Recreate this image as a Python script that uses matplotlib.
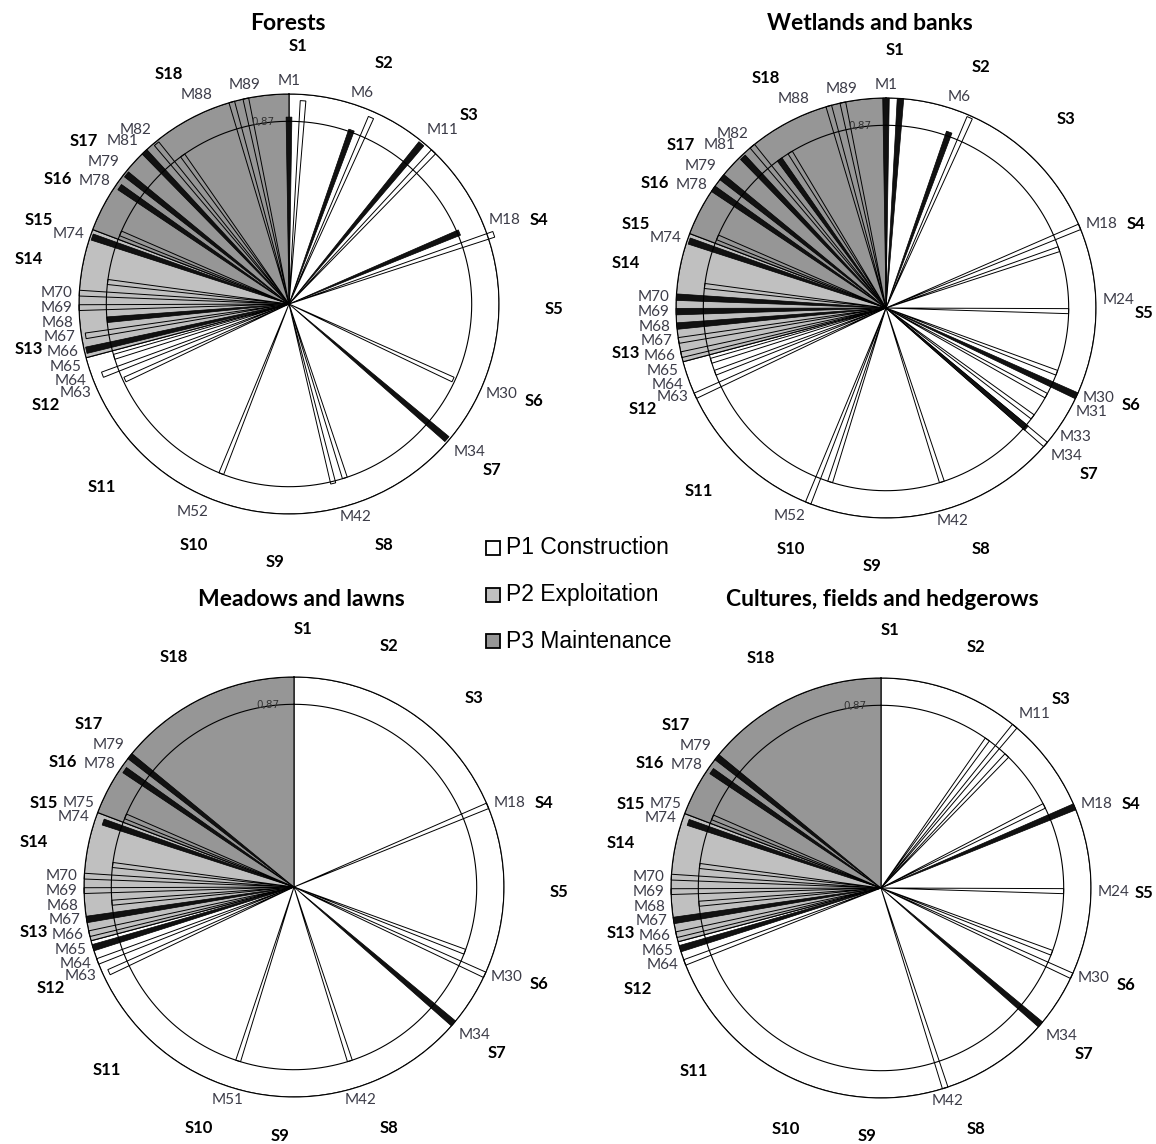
import numpy as np
import matplotlib.pyplot as plt
from matplotlib.patches import Rectangle

# 89 measures (M1..M89) placed clockwise from the top of each radar
n_slots = 91
threshold = 0.87

phase_names = ['P1 Construction', 'P2 Exploitation', 'P3 Maintenance']
phase_colors = ['white', '#c0c0c0', '#969696']
phase_first = [1, 66, 75]  # first measure of each phase

sectors = ['S%d' % i for i in range(1, 19)]

titles = ['Forests', 'Wetlands and banks', 'Meadows and lawns',
          'Cultures, fields and hedgerows']

# labelled measures per habitat
labels_forests = [1, 6, 11, 18, 30, 34, 42, 52, 63, 64, 65, 66, 67, 68, 69, 70,
                  74, 78, 79, 81, 82, 88, 89]
labels_wetlands = [1, 6, 18, 24, 30, 31, 33, 34, 42, 52, 63, 64, 65, 66, 67, 68,
                   69, 70, 74, 78, 79, 81, 82, 88, 89]
labels_meadows = [18, 30, 34, 42, 51, 63, 64, 65, 66, 67, 68, 69, 70, 74, 75, 78, 79]
labels_cultures = [11, 18, 24, 30, 34, 42, 64, 65, 66, 67, 68, 69, 70, 74, 75, 78, 79]

# strong scores (black wedges): measure -> score
bold_forests = {1: 0.89, 6: 0.88, 11: 0.99, 18: 0.88, 34: 0.99, 66: 0.99, 68: 0.87,
                74: 0.99, 78: 0.98, 79: 0.99, 81: 1.0}
bold_wetlands = {1: 1.0, 2: 1.0, 6: 0.89, 30: 1.0, 34: 0.88, 68: 1.0, 69: 1.0,
                 70: 1.0, 74: 0.99, 78: 1.0, 79: 1.0, 81: 0.99, 83: 0.87}
bold_meadows = {34: 1.0, 65: 1.0, 67: 1.0, 74: 0.96, 78: 0.98, 79: 1.0}
bold_cultures = {18: 1.0, 34: 1.0, 65: 1.0, 67: 1.0, 74: 0.97, 78: 0.98, 79: 1.0}

# other scores (thin spikes): measure -> score
thin_forests = {2: 0.97, 7: 0.97, 12: 1.0, 19: 1.03, 30: 0.86, 42: 0.87, 43: 0.88,
                52: 0.87, 63: 0.86, 64: 0.95, 65: 0.87, 67: 0.98, 69: 1.0, 70: 1.0,
                71: 0.87, 75: 0.87, 82: 0.99, 83: 0.87, 88: 1.0, 89: 1.0}
thin_wetlands = {7: 0.99, 18: 1.0, 19: 0.87, 24: 0.87, 29: 0.87, 31: 0.87, 33: 0.87,
                 34: 1.0, 42: 0.87, 51: 0.87, 52: 1.0, 63: 1.0, 64: 0.87, 65: 0.87,
                 66: 1.0, 67: 1.0, 71: 0.87, 75: 0.87, 82: 1.0, 84: 0.87, 88: 1.0,
                 89: 1.0}
thin_meadows = {18: 1.0, 29: 0.87, 30: 1.0, 42: 0.87, 51: 0.87, 63: 0.97, 64: 1.0,
                66: 1.0, 68: 0.87, 69: 1.0, 70: 1.0, 71: 0.87, 75: 0.87}
thin_cultures = {10: 0.87, 11: 1.0, 12: 0.87, 17: 0.87, 24: 0.87, 29: 0.87, 30: 1.0,
                 42: 1.0, 64: 1.0, 66: 1.0, 68: 0.87, 69: 1.0, 70: 1.0, 71: 0.87,
                 75: 0.87}

charts = [
    (labels_forests, bold_forests, thin_forests),
    (labels_wetlands, bold_wetlands, thin_wetlands),
    (labels_meadows, bold_meadows, thin_meadows),
    (labels_cultures, bold_cultures, thin_cultures),
]

# layout in pixels
W, H, R = 1156, 1144, 210
centers = [(289, 304), (886, 308), (294, 887), (881, 888)]
title_xy = [(288, 24), (870, 24), (301, 600), (882, 600)]
sector_deg = [2, 21, 43, 71, 91, 112, 130, 159, 183, 201, 225, 247, 260, 280, 289,
              299, 309, 333]

step = 2 * np.pi / n_slots
offsets = [0] + [s * i * 0.5 for i in range(1, 25) for s in (-1, 1)]


def ang(m):
    return (m - 1) * step


def align(th):
    x, y = np.sin(th), np.cos(th)
    ha = 'left' if x > 0.35 else ('right' if x < -0.35 else 'center')
    va = 'bottom' if y > 0.6 else ('top' if y < -0.6 else 'center')
    return ha, va


def draw(fig, ax, center, labels, bold, thin, renderer):
    ax.set_theta_zero_location('N')
    ax.set_theta_direction(-1)
    ax.set_ylim(0, 1)
    ax.set_xticks([])
    ax.set_yticks([])
    ax.grid(False)
    ax.spines['polar'].set_linewidth(0.8)

    # phase sectors
    edges = [0] + [(f - 1.5) * step for f in phase_first[1:]] + [2 * np.pi]
    for i in range(3):
        ax.bar((edges[i] + edges[i + 1]) / 2, 1.0, width=edges[i + 1] - edges[i],
               color=phase_colors[i], edgecolor='black', linewidth=0.8, zorder=1)

    for m, r in thin.items():
        ax.bar(ang(m), r, width=0.4 * step, fill=False, edgecolor='black',
               linewidth=0.7, zorder=2, clip_on=False)
    for m, r in bold.items():
        ax.bar(ang(m), r, width=0.45 * step, color='#111111', edgecolor='black',
               linewidth=0.5, zorder=3, clip_on=False)

    t = np.linspace(0, 2 * np.pi, 400)
    ax.plot(t, np.full_like(t, threshold), color='black', lw=0.8, zorder=4)
    ax.text(np.radians(-8), threshold + 0.005, '0,87', fontsize=7.5, ha='center',
            va='center', color='#333333', zorder=5)

    # sector names on a slightly flattened ring, kept inside the figure
    cx, cy = center
    taken = []
    for s, d in zip(sectors, sector_deg):
        a = np.radians(d)
        x = min(cx + 1.26 * R * np.sin(a), W - 12)
        y = min(cy - 1.23 * R * np.cos(a), H - 8)
        txt = fig.text(x / W, 1 - y / H, s, ha='center', va='center',
                       fontsize=12, family='Lato', fontweight='bold')
        taken.append(txt.get_window_extent(renderer).expanded(1.0, 0.7))

    # measure labels, nudged along the rim when they run into other text;
    # labels stacked on the sides only need vertical room, the slanted ones more
    for m in sorted(labels, reverse=True):
        base = ang(m)
        txt = ax.text(base, 1.03, 'M%d' % m, fontsize=11, family='Lato',
                      color='#3c3c48', clip_on=False)
        for off in offsets:
            th = base + np.radians(off)
            ha, va = align(th)
            txt.set_position((th, 1.03))
            txt.set_ha(ha)
            txt.set_va(va)
            wide = 1.15 if va == 'center' else 1.45
            bb = txt.get_window_extent(renderer).expanded(wide, 0.75)
            if not any(bb.overlaps(b) for b in taken):
                break
        taken.append(bb)


fig = plt.figure(figsize=(W / 100, H / 100), dpi=100)
renderer = fig.canvas.get_renderer()

for center, (tx, ty), title, (labels, bold, thin) in zip(centers, title_xy, titles, charts):
    cx, cy = center
    ax = fig.add_axes([(cx - R) / W, 1 - (cy + R) / H, 2 * R / W, 2 * R / H],
                      projection='polar')
    draw(fig, ax, center, labels, bold, thin, renderer)
    fig.text(tx / W, 1 - ty / H, title, ha='center', va='center', fontsize=16.5,
             family='Lato', fontweight='bold')

# legend
for i, (name, col) in enumerate(zip(phase_names, phase_colors)):
    y = 548 + i * 46.5
    fig.add_artist(Rectangle((486 / W, 1 - (y + 7) / H), 14 / W, 14 / H,
                             transform=fig.transFigure, facecolor=col,
                             edgecolor='black', linewidth=1.3))
    fig.text(506 / W, 1 - y / H, name, ha='left', va='center', fontsize=16.5,
             family='Liberation Sans')

fig.savefig('out.png', dpi=100)
